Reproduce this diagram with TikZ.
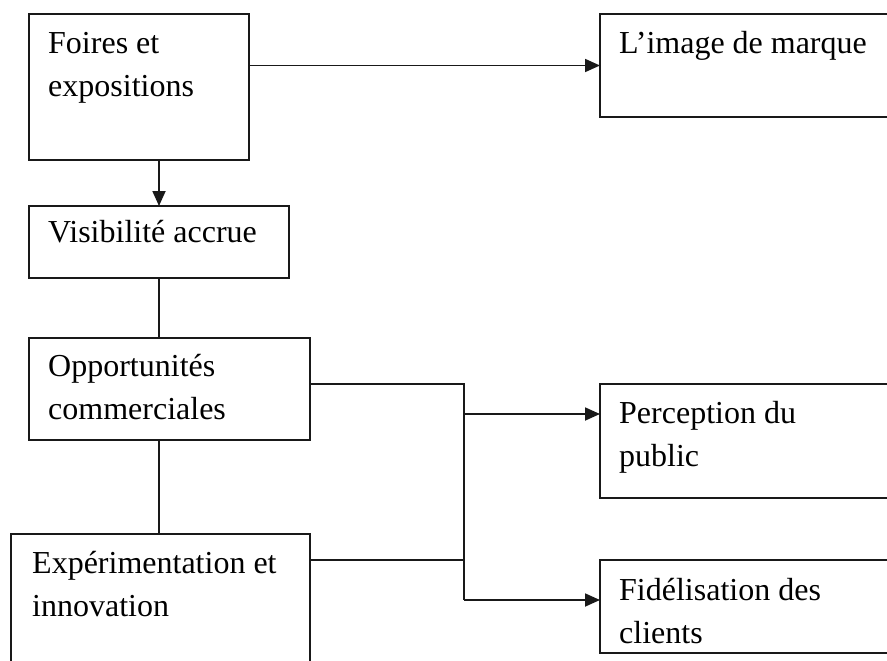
\documentclass[tikz,border=0pt]{standalone}
\usepackage{fontspec}
\setmainfont{Liberation Serif}
\usetikzlibrary{arrows.meta,calc}
\begin{document}
\begin{tikzpicture}[x=1pt,y=-1pt,
  boxst/.style={draw=black!90,line width=1.8pt,fill=none,anchor=north west,inner sep=0pt,outer sep=0pt},
  txt/.style={anchor=north west,inner sep=0pt,align=left,font=\fontsize{32}{43}\selectfont,text=black},
  conn/.style={draw=black!90,line width=1.8pt},
  arr/.style={conn,-{Triangle[length=15pt,width=13pt]}}]
\useasboundingbox (0,0) rectangle (887,661);
\clip (0,0) rectangle (887,661);
% boxes
\node[boxst,minimum width=220pt,minimum height=146pt] (b1) at (29,14) {};
\node[boxst,minimum width=260pt,minimum height=72pt] (b2) at (29,206) {};
\node[boxst,minimum width=281pt,minimum height=102pt] (b3) at (29,338) {};
\node[boxst,minimum width=299pt,minimum height=150pt] (b6) at (11,534) {};
\node[boxst,minimum width=320pt,minimum height=103pt] (img) at (600,14) {};
\node[boxst,minimum width=320pt,minimum height=114pt] (b4) at (600,384) {};
\node[boxst,minimum width=320pt,minimum height=93pt] (b5) at (600,560) {};
% texts
\node[txt] (t1) at ($(b1.north west)+(19,9)$) {\strut Foires et\\expositions};
\node[txt] (t2) at ($(b2.north west)+(19,6)$) {\strut Visibilité accrue};
\node[txt] (t3) at ($(b3.north west)+(19,8)$) {\strut Opportunités\\commerciales};
\node[txt] (t6) at ($(b6.north west)+(21,9)$) {\strut Expérimentation et\\innovation};
\node[txt] (timg) at ($(img.north west)+(19,9)$) {\strut L’image de marque};
\node[txt] (t4) at ($(b4.north west)+(19,9)$) {\strut Perception du\\public};
\node[txt] (t5) at ($(b5.north west)+(19,10)$) {\strut Fidélisation des\\clients};
% junction coordinates
\coordinate (jt) at (464,384);
\coordinate (jb) at (464,600);
\coordinate (jp) at (464,414);
\coordinate (je) at (464,560);
% connectors
\draw[arr] (img.west -| b1.east) -- (img.west);
\draw[arr] (b2.north |- b1.south) -- (b2.north);
\draw[conn] (b2.south) -- (b2.south |- b3.north);
\draw[conn] (b2.south |- b3.south) -- (b2.south |- b6.north);
\draw[conn] (jt -| b3.east) -- (jt) -- (jb);
\draw[arr] (jp) -- (jp -| b4.west);
\draw[arr] (jb) -- (jb -| b5.west);
\draw[conn] (je -| b6.east) -- (je);
\end{tikzpicture}
\end{document}
